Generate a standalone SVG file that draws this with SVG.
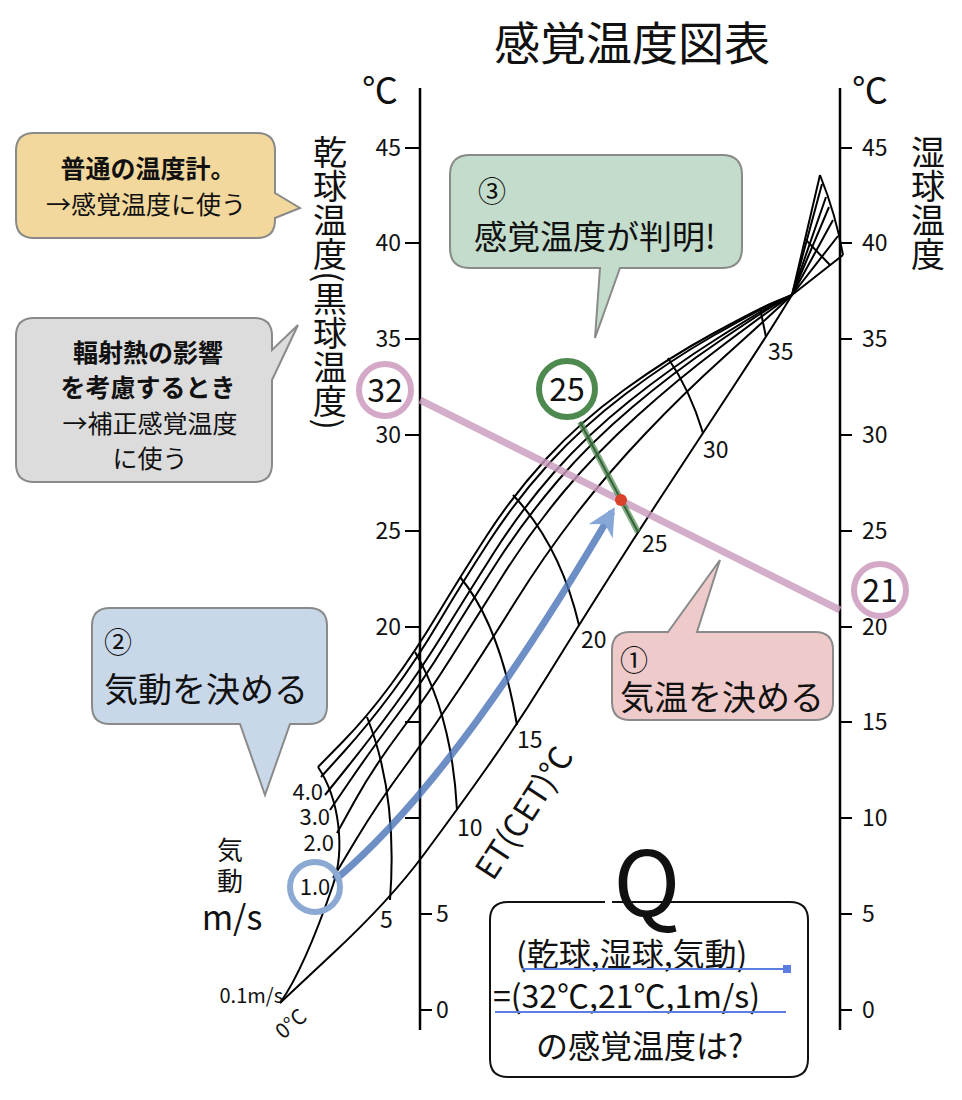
<svg xmlns="http://www.w3.org/2000/svg" width="962" height="1100" viewBox="0 0 962 1100">
<style>
text{font-family:"Noto Sans CJK JP","Noto Sans",sans-serif;fill:#111}
.ax{stroke:#000;stroke-width:2.5;fill:none}
.tk{stroke:#000;stroke-width:2;fill:none}
.ch{stroke:#000;stroke-width:2;fill:none;stroke-linejoin:round}
.n{font-size:23px}
.bx{stroke:#8a8a8a;stroke-width:2}
</style>
<defs>
<marker id="ah" viewBox="0 0 10 10" refX="8" refY="5" markerWidth="4" markerHeight="4" orient="auto"><path d="M0,0 L10,5 L0,10 L3,5 z" fill="#6a92cc"/></marker>
</defs>
<text x="632" y="60" font-size="46" text-anchor="middle">感覚温度図表</text>
<text x="380" y="104" font-size="36" text-anchor="middle">℃</text>
<text x="870" y="104" font-size="36" text-anchor="middle">℃</text>
<g id="axes">
<line class="ax" x1="420" y1="88" x2="420" y2="1030"/>
<line class="ax" x1="840" y1="88" x2="840" y2="1030"/>
<path class="tk" d="M405,148H420M405,243H420M405,339H420M405,435H420M405,531H420M405,627H420M405,722H420M405,818H420M420,914H432M420,1010H432"/>
<path class="tk" d="M840,148H852M840,243H852M840,339H852M840,435H852M840,531H852M840,627H852M840,722H852M840,818H852M840,914H852M840,1010H852"/>
<g class="n" text-anchor="end">
<text x="401" y="156">45</text><text x="401" y="251">40</text><text x="401" y="347">35</text><text x="401" y="443">30</text><text x="401" y="539">25</text><text x="401" y="635">20</text>
</g>
<text class="n" x="436" y="922">5</text><text class="n" x="436" y="1018">0</text>
<g class="n">
<text x="862" y="156">45</text><text x="862" y="251">40</text><text x="862" y="347">35</text><text x="862" y="443">30</text><text x="862" y="539">25</text><text x="862" y="635">20</text><text x="862" y="730">15</text><text x="862" y="826">10</text><text x="862" y="922">5</text><text x="862" y="1018">0</text>
</g>
</g>
<text x="330" y="135" font-size="34" writing-mode="vertical-rl">乾球温度(黒球温度)</text>
<text x="928" y="135" font-size="34" writing-mode="vertical-rl">湿球温度</text>
<g id="chart">
<path class="ch" d="M318,767 L342.5,742 Q367,717 391,684.5 Q415,652 437.5,614.5 Q460,577 486.5,536 Q513,495 546.5,458.5 Q580,422 624,390 Q668,358 714,333 Q760,308 776,301.5 L792,295 L820,175"/>
<path class="ch" d="M321,777 L344.5,751 Q368,725 392.5,692 Q417,659 439.5,621 Q462,583 489,541.5 Q516,500 549,463.5 Q582,427 625.5,394 Q669,361 714.5,335 Q760,309 776,302 L792,295 L822,184"/>
<path class="ch" d="M325,795 L347.5,767 Q370,739 395,705 Q420,671 443.5,633 Q467,595 494,552.5 Q521,510 554,472.5 Q587,435 629.5,401 Q672,367 716.5,339 Q761,311 776.5,303 L792,295 L826,197"/>
<path class="ch" d="M330,810 L350.5,780 Q371,750 397,715.5 Q423,681 446.5,642.5 Q470,604 497.5,561.5 Q525,519 558,480.5 Q591,442 632.5,407 Q674,372 717.5,342.5 Q761,313 776.5,304 L792,295 L829,207"/>
<path class="ch" d="M337,833 L355,800.5 Q373,768 400,732 Q427,696 451.5,657 Q476,618 503.5,574.5 Q531,531 563.5,492 Q596,453 637,416 Q678,379 720,347.5 Q762,316 777,305.5 L792,295 L833,220"/>
<path class="ch" d="M333,878 L355.5,840.5 Q378,803 406.5,764.5 Q435,726 461,686.5 Q487,647 515.5,601.5 Q544,556 575.5,515 Q607,474 645.5,433.5 Q684,393 723.5,357.5 Q763,322 777.5,308.5 L792,295 L838,236"/>
<path class="ch" d="M280,1003 L335,951.5 Q390,900 423.5,855 Q457,810 487,767.5 Q517,725 548,675 Q579,625 608.5,578.5 Q638,532 670.5,482.5 Q703,433 734.5,385 Q766,337 779,316 L792,295 L843,255"/>
<path class="ch" d="M820,175 Q836,215 843,255"/>
<path class="ch" d="M806,240 L830,265"/>
<path class="ch" d="M318,767 C340,800 345,850 333,885 S300,975 280,1003"/>
<path class="ch" d="M367,717 Q398,795 390,900"/>
<path class="ch" d="M415,652 Q452,715 457,810"/>
<path class="ch" d="M460,577 Q500,625 517,725"/>
<path class="ch" d="M513,495 Q560,545 579,625"/>
<path class="ch" d="M580,422 L638,532"/>
<path class="ch" d="M668,358 Q690,390 703,433"/>
<path class="ch" d="M760,308 L766,337"/>
<g class="n">
<text x="380" y="928">5</text><text x="457" y="836">10</text><text x="517" y="748">15</text><text x="581" y="648">20</text><text x="642" y="552">25</text><text x="703" y="458">30</text><text x="768" y="360">35</text>
</g>
<g font-size="22" text-anchor="end">
<text x="323" y="800">4.0</text><text x="330" y="825">3.0</text><text x="334" y="851">2.0</text>
</g>
<text x="283" y="1003" font-size="20" text-anchor="end">0.1m/s</text>
<text font-size="21" transform="translate(283,1040) rotate(-40)">0°C</text>
<text font-size="32" transform="translate(493,882) rotate(-57)">ET(CET)℃</text>
<text x="230" y="860" font-size="26" text-anchor="middle">気</text>
<text x="230" y="891" font-size="26" text-anchor="middle">動</text>
<text x="232" y="930" font-size="34" text-anchor="middle">m/s</text>
</g>
<g id="connectors">
<line x1="420" y1="400" x2="840" y2="610" stroke="#c99bbd" stroke-width="7" opacity="0.8"/>
<line x1="580" y1="422" x2="638" y2="532" stroke="#4e8a50" stroke-width="6" opacity="0.7"/>
<path d="M335,880 C430,800 525,660 612,512" fill="none" stroke="#4a74b8" stroke-width="7" opacity="0.8" marker-end="url(#ah)"/>
<circle cx="621" cy="500" r="6" fill="#d9412b"/>
</g>
<g id="c32"><circle cx="385" cy="390" r="26" fill="none" stroke="#d4a9c8" stroke-width="6"/><text x="385" y="402" font-size="32" text-anchor="middle">32</text></g>
<g id="c21"><circle cx="880" cy="590" r="26" fill="none" stroke="#d4a9c8" stroke-width="6"/><text x="880" y="602" font-size="32" text-anchor="middle">21</text></g>
<g id="c25"><circle cx="567" cy="389" r="28" fill="none" stroke="#4e8a50" stroke-width="6"/><text x="567" y="401" font-size="32" text-anchor="middle">25</text></g>
<g id="c10"><circle cx="315" cy="887" r="25" fill="none" stroke="#8ba9d3" stroke-width="6"/><text x="315" y="895" font-size="22" text-anchor="middle">1.0</text></g>
<g id="n-yellow">
<path class="bx" fill="#f2d89c" d="M34,133 H257 Q275,133 275,151 V193 L300,208 L275,218 V220 Q275,238 257,238 H34 Q16,238 16,220 V151 Q16,133 34,133 Z"/>
<text x="148" y="178" font-size="25" font-weight="bold" text-anchor="middle">普通の温度計。</text>
<text x="146" y="214" font-size="25" text-anchor="middle">→感覚温度に使う</text>
</g>
<g id="n-gray">
<path class="bx" fill="#dcdcdc" d="M34,318 H254 Q272,318 272,336 V350 L298,325 L272,380 V464 Q272,482 254,482 H34 Q16,482 16,464 V336 Q16,318 34,318 Z"/>
<text x="148" y="362" font-size="25" font-weight="bold" text-anchor="middle">輻射熱の影響</text>
<text x="148" y="397" font-size="25" font-weight="bold" text-anchor="middle">を考慮するとき</text>
<text x="150" y="433" font-size="25" text-anchor="middle">→補正感覚温度</text>
<text x="150" y="468" font-size="25" text-anchor="middle">に使う</text>
</g>
<g id="n-green">
<path class="bx" fill="#c3dccb" d="M470,155 H722 Q742,155 742,175 V248 Q742,268 722,268 H620 L595,338 L600,268 H470 Q450,268 450,248 V175 Q450,155 470,155 Z"/>
<text x="478" y="202" font-size="28">③</text>
<text x="474" y="249" font-size="33">感覚温度が判明!</text>
</g>
<g id="n-pink">
<path class="bx" fill="#eecbca" d="M630,632 H668 L720,560 L697,632 H815 Q833,632 833,650 V702 Q833,720 815,720 H630 Q612,720 612,702 V650 Q612,632 630,632 Z"/>
<text x="620" y="671" font-size="28">①</text>
<text x="620" y="710" font-size="34">気温を決める</text>
</g>
<g id="n-blue">
<path class="bx" fill="#c9d8e9" d="M110,608 H309 Q327,608 327,626 V706 Q327,724 309,724 H290 L265,795 L240,724 H110 Q92,724 92,706 V626 Q92,608 110,608 Z"/>
<text x="104" y="653" font-size="28">②</text>
<text x="104" y="702" font-size="34">気動を決める</text>
</g>
<g id="n-q">
<path d="M612,902 H790 Q808,902 808,920 V1059 Q808,1077 790,1077 H508 Q490,1077 490,1059 V920 Q490,902 508,902 H605" fill="#fff" stroke="#111" stroke-width="2"/>
<text x="647" y="916" font-size="90" font-family="Liberation Serif,serif" text-anchor="middle">Q</text>
<text x="516" y="966" font-size="32">(乾球,湿球,気動)</text>
<text x="493" y="1008" font-size="32">=(32℃,21℃,1m/s)</text>
<text x="536" y="1058" font-size="32">の感覚温度は?</text>
<line x1="522" y1="969" x2="785" y2="969" stroke="#5b7ee0" stroke-width="2"/>
<rect x="783" y="965" width="8" height="8" fill="#5b7ee0"/>
<line x1="495" y1="1012" x2="786" y2="1012" stroke="#5b7ee0" stroke-width="2"/>
</g>
</svg>
